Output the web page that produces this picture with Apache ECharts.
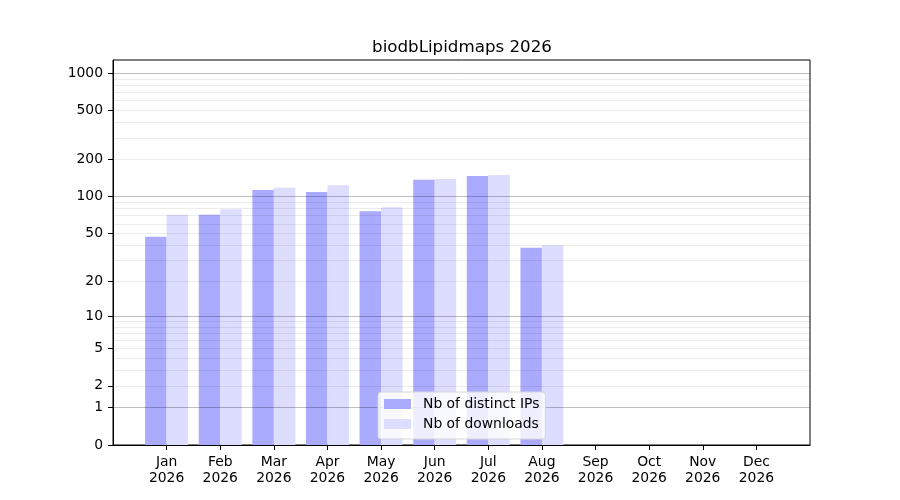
<!DOCTYPE html>
<html lang="en">
<head>
    <meta charset="UTF-8">
    <title>biodbLipidmaps 2026</title>
    <script src="https://cdn.jsdelivr.net/npm/echarts@6/dist/echarts.min.js"></script>
    <style>
        html, body { margin: 0; padding: 0; background: #fff; }
    </style>
</head>
<body>
<div id="chart" style="width:900px;height:500px;"></div>

<script>
    // data
    var months = ['Jan', 'Feb', 'Mar', 'Apr', 'May', 'Jun', 'Jul', 'Aug', 'Sep', 'Oct', 'Nov', 'Dec'];
    var year = '2026';
    var distinctIPs = [47, 71, 113, 109, 76, 137, 147, 38, 0, 0, 0, 0];
    var downloads = [71, 79, 118, 124, 82, 139, 150, 40, 0, 0, 0, 0];
    var yTickValues = [0, 1, 2, 5, 10, 20, 50, 100, 200, 500, 1000];
    var majorGrid = [1, 10, 100, 1000];
    var minorGrid = [2, 3, 4, 5, 6, 7, 8, 9, 20, 30, 40, 50, 60, 70, 80, 90,
                     200, 300, 400, 500, 600, 700, 800, 900];

    // y scale is log10(v + 1)
    function f(v) { return Math.log10(v + 1); }
    var yMax = 3.107;

    // one empty category each side so the months sit like in the original
    var cats = [''].concat(months.map(function (m) { return m + '\n' + year; }), ['']);
    function pad(arr) { return [null].concat(arr.map(f), [null]); }
    function inner(i) { return i > 0 && i < cats.length - 1; }

    var font = 'DejaVu Sans';
    var myChart = echarts.init(document.getElementById('chart'));

    // hidden axis that only draws grid lines, above the bars
    function gridAxis(values, color, z) {
        return {
            type: 'value', min: 0, max: yMax, z: z,
            axisLine: { show: false },
            axisTick: { show: false, customValues: values.map(f) },
            axisLabel: { show: false, customValues: values.map(f) },
            splitLine: { show: true, lineStyle: { color: color, width: 1 } }
        };
    }

    var option = {
        backgroundColor: '#fff',
        animation: false,
        title: {
            text: 'biodbLipidmaps 2026',
            left: 457,
            textAlign: 'center',
            top: 34,
            textStyle: { fontFamily: font, fontSize: 16.7, fontWeight: 'normal', color: '#000' }
        },
        grid: {
            left: 113, right: 90, top: 60, bottom: 55,
            show: true, borderColor: '#000', borderWidth: 1, backgroundColor: 'transparent'
        },
        legend: {
            orient: 'vertical',
            left: 378, top: 392,
            itemWidth: 27, itemHeight: 10, itemGap: 6,
            padding: [5, 6, 8, 6],
            icon: 'rect',
            backgroundColor: 'rgba(255,255,255,0.8)',
            borderColor: '#d6d6d6', borderWidth: 1, borderRadius: 3,
            textStyle: { fontFamily: font, fontSize: 13.9, color: '#000', padding: [0, 0, 0, 7] },
            data: ['Nb of distinct IPs', 'Nb of downloads']
        },
        xAxis: {
            type: 'category',
            data: cats,
            boundaryGap: false,
            axisLine: { lineStyle: { color: '#000' } },
            axisTick: { length: 5, lineStyle: { color: '#000' }, interval: inner },
            axisLabel: {
                interval: inner, margin: 9, color: '#000',
                fontFamily: font, fontSize: 13.9, lineHeight: 16
            },
            splitLine: { show: false }
        },
        yAxis: [
            {
                type: 'value', min: 0, max: yMax,
                axisLine: { show: true, lineStyle: { color: '#000' } },
                axisTick: { show: true, length: 5, lineStyle: { color: '#000' }, customValues: yTickValues.map(f) },
                axisLabel: {
                    customValues: yTickValues.map(f), margin: 10, color: '#000',
                    fontFamily: font, fontSize: 13.9,
                    formatter: function (v) { return String(Math.round(Math.pow(10, v) - 1)); }
                },
                splitLine: { show: false }
            },
            gridAxis(minorGrid, 'rgba(0,0,0,0.075)', 3),
            gridAxis(majorGrid, 'rgba(0,0,0,0.25)', 3)
        ],
        series: [
            {
                name: 'Nb of distinct IPs',
                type: 'bar',
                data: pad(distinctIPs),
                barWidth: 21.5,
                barGap: '0%',
                itemStyle: { color: '#aaaaff' }
            },
            {
                name: 'Nb of downloads',
                type: 'bar',
                data: pad(downloads),
                barWidth: 21.5,
                barGap: '0%',
                itemStyle: { color: '#ddddff' }
            }
        ]
    };

    myChart.setOption(option);
</script>
</body>
</html>
